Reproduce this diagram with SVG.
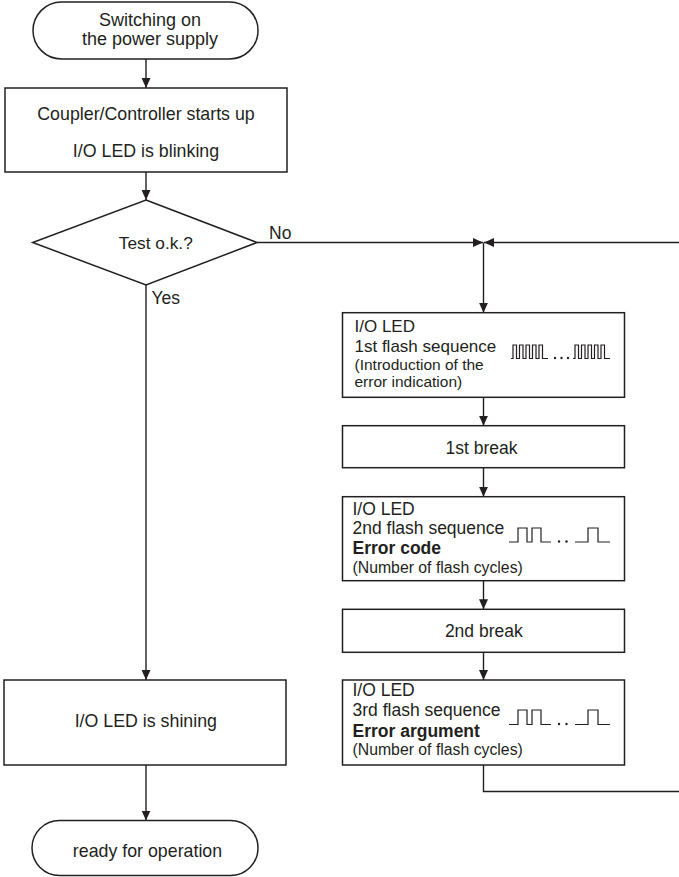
<svg xmlns="http://www.w3.org/2000/svg" width="679" height="877" viewBox="0 0 679 877">
<style>
.shape{fill:#fff;stroke:#231f20;stroke-width:1.5}
.line{fill:none;stroke:#231f20;stroke-width:1.4}
.wave{fill:none;stroke:#231f20;stroke-width:1.2}
text{font-family:"Liberation Sans",Arial,sans-serif;fill:#231f20;font-size:17.5px}
.c{text-anchor:middle}
.s{font-size:15.5px}
.b{font-weight:bold}
</style>
<defs>
<marker id="arr" markerUnits="userSpaceOnUse" markerWidth="11" markerHeight="9" refX="10" refY="4.5" orient="auto">
<path d="M0,0 L10,4.5 L0,9 z" fill="#231f20"/>
</marker>
</defs>
<rect width="679" height="877" fill="#fff"/>
<g id="connectors">
<path class="line" d="M146,59 V88" marker-end="url(#arr)"/>
<path class="line" d="M146,172 V200" marker-end="url(#arr)"/>
<path class="line" d="M146,285 V680" marker-end="url(#arr)"/>
<path class="line" d="M146,765 V820.5" marker-end="url(#arr)"/>
<path class="line" d="M257,242.5 H483" marker-end="url(#arr)"/>
<path class="line" d="M483.5,765 V791.5 H682 V242.5 H484" marker-end="url(#arr)"/>
<path class="line" d="M483.5,242.5 V312.7" marker-end="url(#arr)"/>
<path class="line" d="M483.5,397.3 V425.7" marker-end="url(#arr)"/>
<path class="line" d="M483.5,467.7 V496.7" marker-end="url(#arr)"/>
<path class="line" d="M483.5,580.7 V609.3" marker-end="url(#arr)"/>
<path class="line" d="M483.5,652.3 V680" marker-end="url(#arr)"/>
<text x="269" y="239">No</text>
<text x="151.5" y="304">Yes</text>
</g>
<g id="start">
<rect class="shape" x="33" y="2" width="225" height="57" rx="28.5"/>
<text class="c" x="150" y="26" style="font-size:18px">Switching on</text>
<text class="c" x="150" y="45" style="font-size:18px">the power supply</text>
</g>
<g id="startup">
<rect class="shape" x="5" y="88" width="282" height="84"/>
<text class="c" x="146" y="120" style="font-size:17.8px">Coupler/Controller starts up</text>
<text class="c" x="146" y="156.5" style="font-size:17.8px">I/O LED is blinking</text>
</g>
<g id="test">
<polygon class="shape" points="146,200 257,242.5 146,285 32.7,242.5"/>
<text class="c" x="155.8" y="249" style="font-size:17.3px">Test o.k.?</text>
</g>
<g id="flash1">
<rect class="shape" x="342.5" y="312.7" width="282" height="84.6"/>
<text x="354.5" y="332.3" style="font-size:17px">I/O LED</text>
<text x="354.5" y="352.3" style="font-size:17px">1st flash sequence</text>
<text class="s" x="354.5" y="370">(Introduction of the</text>
<text class="s" x="354.5" y="387">error indication)</text>
<path class="wave" d="M511,358.5 H513 V345 H516.5 V358.5 H519.5 V345 H523 V358.5 H526 V345 H529.5 V358.5 H532.5 V345 H536 V358.5 H539 V345 H542.5 V358.5 H548"/>
<path class="wave" d="M573,358.5 H575 V345 H578.5 V358.5 H581.5 V345 H585 V358.5 H588 V345 H591.5 V358.5 H594.5 V345 H598 V358.5 H601 V345 H604.5 V358.5 H610"/>
<circle cx="555" cy="358" r="1.2" fill="#231f20"/>
<circle cx="561.5" cy="358" r="1.2" fill="#231f20"/>
<circle cx="568" cy="358" r="1.2" fill="#231f20"/>
</g>
<g id="break1">
<rect class="shape" x="342.5" y="425.7" width="282" height="42"/>
<text class="c" x="481.5" y="453.5">1st break</text>
</g>
<g id="flash2">
<rect class="shape" x="342.5" y="496.7" width="282" height="84"/>
<text x="352.5" y="515">I/O LED</text>
<text x="352.5" y="534.3">2nd flash sequence</text>
<text class="b" x="352.5" y="554.3">Error code</text>
<text class="s" x="352.5" y="573.3" style="font-size:15.8px">(Number of flash cycles)</text>
<path class="wave" d="M509,542 H518 V528 H527 V542 H532 V528 H541 V542 H551"/>
<path class="wave" d="M575,542 H588 V528 H598 V542 H610"/>
<circle cx="559" cy="541.5" r="1.2" fill="#231f20"/>
<circle cx="566.5" cy="541.5" r="1.2" fill="#231f20"/>
</g>
<g id="break2">
<rect class="shape" x="342.5" y="609.3" width="282" height="43"/>
<text class="c" x="483.8" y="636.7">2nd break</text>
</g>
<g id="flash3">
<rect class="shape" x="342.5" y="680" width="282" height="85"/>
<text x="352.5" y="696">I/O LED</text>
<text x="352.5" y="716">3rd flash sequence</text>
<text class="b" x="352.5" y="736.7">Error argument</text>
<text class="s" x="352.5" y="755" style="font-size:15.8px">(Number of flash cycles)</text>
<path class="wave" d="M509,724.5 H518 V710 H527 V724.5 H532 V710 H541 V724.5 H551"/>
<path class="wave" d="M575,724.5 H588 V710 H598 V724.5 H610"/>
<circle cx="559" cy="724" r="1.2" fill="#231f20"/>
<circle cx="566.5" cy="724" r="1.2" fill="#231f20"/>
</g>
<g id="shining">
<rect class="shape" x="4" y="680" width="282" height="85"/>
<text class="c" x="145.8" y="727" style="font-size:17.8px">I/O LED is shining</text>
</g>
<g id="ready">
<rect class="shape" x="32" y="820.5" width="226" height="55" rx="27.5"/>
<text class="c" x="147.5" y="856.7" style="font-size:17.8px">ready for operation</text>
</g>
</svg>
